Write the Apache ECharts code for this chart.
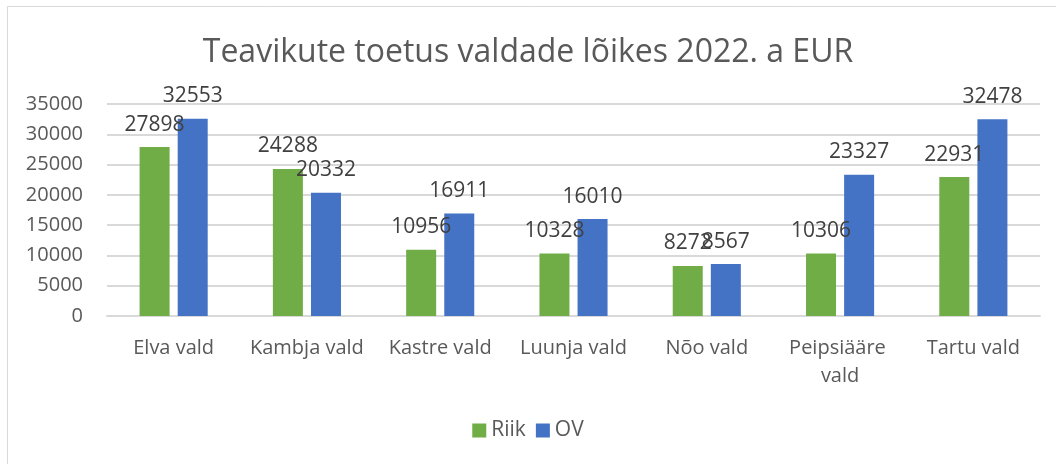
<!DOCTYPE html>
<html>
<head>
<meta charset="utf-8">
<script src="https://cdn.jsdelivr.net/npm/echarts@6/dist/echarts.min.js"></script>
<style>
  html, body { margin: 0; padding: 0; background: #fff; }
  #chart { width: 1056px; height: 464px; }
</style>
</head>
<body>
<div id="chart"></div>
<script>
  // data
  const categories = ['Elva vald', 'Kambja vald', 'Kastre vald', 'Luunja vald', 'Nõo vald', 'Peipsiääre vald', 'Tartu vald'];
  const riik = [27898, 24288, 10956, 10328, 8272, 10306, 22931];
  const ov = [32553, 20332, 16911, 16010, 8567, 23327, 32478];
  const yTicks = [0, 5000, 10000, 15000, 20000, 25000, 30000, 35000];

  const font = '"Open Sans", "Noto Sans", sans-serif';

  let chart = echarts.init(document.getElementById('chart'));

  let barLabel = {
    show: true,
    position: 'top',
    distance: 12,
    color: '#404040',
    fontSize: 21,
    fontFamily: font
  };

  let option = {
    animation: false,
    title: {
      text: 'Teavikute toetus valdade lõikes 2022. a EUR',
      left: 'center',
      top: 32,
      textStyle: { color: '#595959', fontSize: 32, fontWeight: 'normal', fontFamily: font }
    },
    graphic: [
      // only the left and top edge of the chart frame are in the picture
      { type: 'line', shape: { x1: 7.5, y1: 6.5, x2: 7.5, y2: 464 }, style: { stroke: '#d9d9d9', lineWidth: 1 } },
      { type: 'line', shape: { x1: 7.5, y1: 6.5, x2: 1056, y2: 6.5 }, style: { stroke: '#d9d9d9', lineWidth: 1 } }
    ],
    legend: {
      bottom: 18,
      left: 'center',
      itemWidth: 14,
      itemHeight: 14,
      itemGap: 10,
      icon: 'rect',
      textStyle: { color: '#595959', fontSize: 21, fontFamily: font }
    },
    grid: { left: 107, right: 16, top: 104, bottom: 148 },
    xAxis: {
      type: 'category',
      data: categories,
      axisLine: { lineStyle: { color: '#d9d9d9', width: 2 } },
      axisTick: { show: false },
      axisLabel: {
        color: '#595959',
        fontSize: 20,
        fontFamily: font,
        margin: 18,
        lineHeight: 28,
        width: 130,
        overflow: 'break',
        interval: 0
      }
    },
    yAxis: {
      type: 'value',
      min: yTicks[0],
      max: yTicks[yTicks.length - 1],
      interval: 5000,
      axisLine: { show: false },
      axisTick: { show: false },
      splitLine: { lineStyle: { color: '#d9d9d9', width: 2 } },
      axisLabel: {
        color: '#595959',
        fontSize: 20,
        fontFamily: font,
        margin: 24,
        formatter: function (v) { return String(v); }
      }
    },
    series: [
      {
        name: 'Riik',
        type: 'bar',
        data: riik,
        barWidth: 30,
        barGap: '27%',
        itemStyle: { color: '#70AD47' },
        label: barLabel
      },
      {
        name: 'OV',
        type: 'bar',
        data: ov,
        barWidth: 30,
        itemStyle: { color: '#4472C4' },
        label: barLabel
      }
    ]
  };

  chart.setOption(option);
</script>
</body>
</html>
